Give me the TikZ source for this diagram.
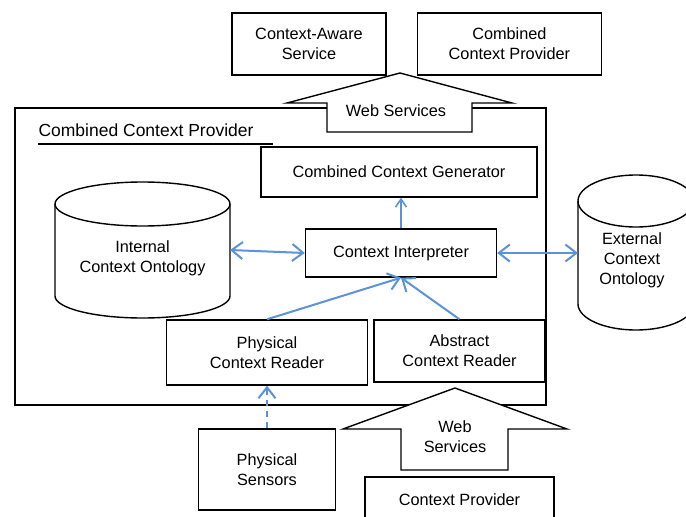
\documentclass[tikz,border=0pt]{standalone}
\usepackage{fontspec}
\setmainfont{Liberation Sans}
\usetikzlibrary{positioning, arrows.meta}
\definecolor{linkblue}{RGB}{91,146,216}
\tikzset{component/.style={
        draw,
        rectangle,
        line width=1.4pt,
        inner sep=2pt,
        align=center
}}
\tikzset{ontology/.style={draw, line width=1.4pt}}
\tikzset{webarrow/.style={draw, line width=1.4pt, fill=white}}
\tikzset{link/.style={draw, line width=2pt, color=linkblue, ->}}

\begin{document}
\begin{tikzpicture}[x=1pt, y=-1pt, >={Straight Barb[length=11pt,width=17pt]},
    every node/.style={font=\fontsize{16.3}{20}\selectfont}]
\useasboundingbox (0,0) rectangle (686,517);

% top services
\node[component, minimum width=154pt, minimum height=62pt] (cas) at (309,44) {Context-Aware\\Service};
\node[component, minimum width=184pt, minimum height=62pt, right=30pt of cas] (ccptop) {Combined\\Context Provider};

% combined context provider
\node[component, minimum width=531pt, minimum height=297pt] (ccp) at (280.5,256.5) {};
\node[anchor=west, font=\fontsize{17.5}{20}\selectfont] (title) at (35,130) {Combined Context Provider};
\draw[line width=1.4pt] (38,144) -- (273,144);

\node[component, minimum width=276pt, minimum height=50pt] (ccg) at (399,172) {Combined Context Generator};
\node[component, minimum width=191pt, minimum height=48pt] (ci) at (401,253) {Context Interpreter};

% ontologies
\draw[ontology] (55,204) -- (55,296) arc[start angle=180, end angle=0, x radius=87.5, y radius=22] -- (230,204);
\draw[ontology] (142.5,204) ellipse [x radius=87.5, y radius=22];
\node[align=center] (ico) at (142.5,258) {Internal\\Context Ontology};
\coordinate (icoeast) at (230,250);
\draw[ontology] (578,201) -- (578,304) arc[start angle=180, end angle=0, x radius=58, y radius=26] -- (694,201);
\draw[ontology] (636,201) ellipse [x radius=58, y radius=26];
\node[align=center] (eco) at (632,260) {External\\Context\\Ontology};
\coordinate (ecowest) at (578,253);

\node[component, minimum width=201pt, minimum height=65pt] (pcr) at (267,352.5) {Physical\\Context Reader};
\node[component, minimum width=171pt, minimum height=62pt] (acr) at (459.5,351) {Abstract\\Context Reader};

% outside
\node[component, minimum width=137pt, minimum height=81pt] (ps) at (267,469.5) {Physical\\Sensors};
\node[component, minimum width=189pt, minimum height=46pt] (cp) at (459.5,500) {Context Provider};

% web service arrows
\draw[webarrow] (400,73) -- (512,103) -- (472,103) -- (472,132) -- (327,132) -- (327,103) -- (287,103) -- cycle;
\node (ws1) at (396,111) {Web Services};
\draw[webarrow] (455,388) -- (567,429) -- (508,429) -- (508,470) -- (401,470) -- (401,429) -- (343,429) -- cycle;
\node[align=center] (ws2) at (455,437) {Web\\Services};

% links
\draw[link, <->] (icoeast) -- (ci.west);
\draw[link, <->] (ci.east) -- (ecowest);
\draw[link, line width=1.6pt, -{Straight Barb[length=8pt,width=11pt]}] (ci.north) -- (ci.north |- ccg.south);
\draw[link] (pcr.north) -- (ci.south);
\draw[link] (acr.north) -- (ci.south);
\draw[link, dash pattern=on 6pt off 5pt] (ps.north) -- (pcr.south);
\end{tikzpicture}
\end{document}
